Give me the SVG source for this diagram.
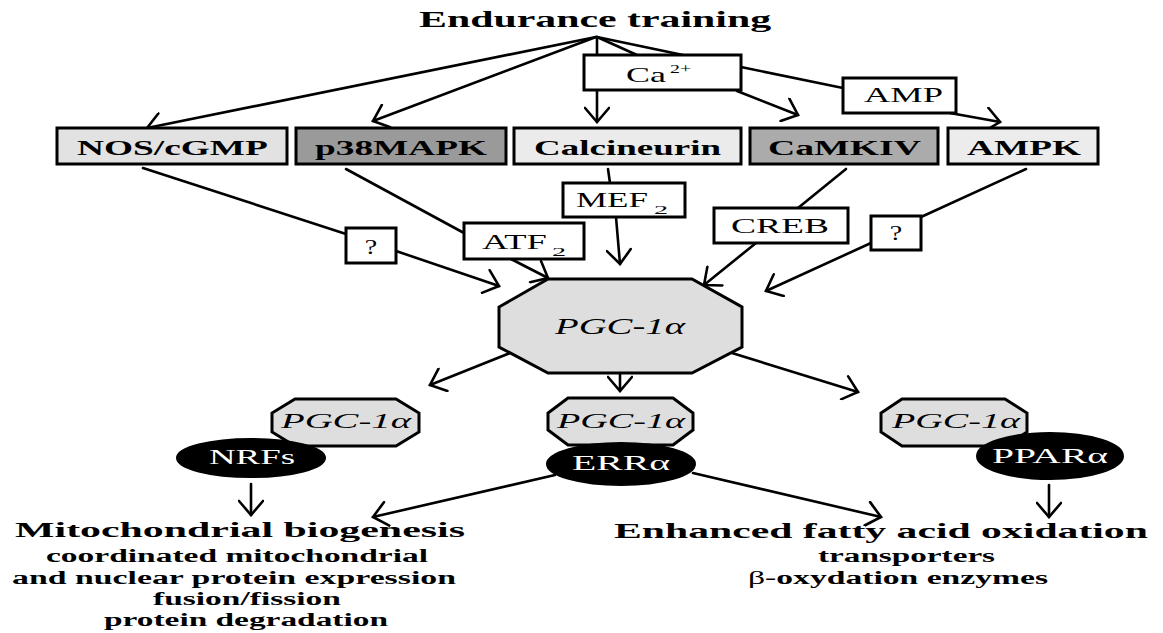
<svg xmlns="http://www.w3.org/2000/svg" width="1163" height="633" viewBox="0 0 1163 633">
<style>
text{font-family:"Liberation Serif","Times New Roman",serif;fill:#000}
.b{font-weight:bold}
.bx{stroke:#000;stroke-width:3}
.lb{fill:#fff;stroke:#000;stroke-width:3}
.c{stroke:#000;stroke-width:2.6;fill:none;stroke-linecap:round}
.a{marker-end:url(#ah)}
.oct{fill:#dedede;stroke:#000;stroke-width:3}
.ell{fill:#000;stroke:#000;stroke-width:2}
.w{fill:#fff}
.it{font-style:italic}
</style>
<defs>
<marker id="ah" viewBox="0 0 20 26" refX="18" refY="13" markerWidth="20" markerHeight="26" markerUnits="userSpaceOnUse" orient="auto">
<path d="M4,1 L18,13 L4,25" fill="none" stroke="#000" stroke-width="2.6" stroke-linecap="round" stroke-linejoin="miter"/>
</marker>
</defs>
<rect width="1163" height="633" fill="#fff"/>

<g id="connectors">
<line class="c a" x1="596" y1="37" x2="147" y2="128"/>
<line class="c a" x1="596" y1="37" x2="373" y2="121"/>
<line class="c" x1="597" y1="37" x2="597" y2="55"/>
<line class="c a" x1="597" y1="90" x2="597" y2="122"/>
<line class="c" x1="597" y1="37" x2="637" y2="55"/>
<line class="c" x1="597" y1="37" x2="683" y2="55"/>
<line class="c a" x1="737" y1="91" x2="798" y2="115"/>
<line class="c" x1="741" y1="67" x2="843" y2="88"/>
<line class="c a" x1="950" y1="113" x2="1000" y2="122"/>
<line class="c" x1="143" y1="168" x2="346" y2="234"/>
<line class="c a" x1="396" y1="251" x2="499" y2="286"/>
<line class="c" x1="346" y1="169" x2="464" y2="233"/>
<line class="c a" x1="511" y1="259" x2="548" y2="278"/>
<line class="c" x1="608" y1="169" x2="610" y2="183"/>
<line class="c a" x1="616" y1="217" x2="620" y2="264"/>
<line class="c" x1="846" y1="169" x2="798" y2="208"/>
<line class="c a" x1="756" y1="243" x2="704" y2="285"/>
<line class="c" x1="1026" y1="169" x2="921" y2="217"/>
<line class="c a" x1="871" y1="243" x2="766" y2="291"/>
<line class="c a" x1="510" y1="353" x2="430" y2="385"/>
<line class="c a" x1="620" y1="373" x2="620" y2="391"/>
<line class="c a" x1="732" y1="353" x2="858" y2="392"/>
<line class="c a" x1="251" y1="484" x2="251" y2="515"/>
<line class="c a" x1="555" y1="475" x2="373" y2="517"/>
<line class="c a" x1="693" y1="473" x2="881" y2="517"/>
<line class="c a" x1="1049" y1="485" x2="1049" y2="517"/>
</g>

<g id="title">
<text class="b" transform="translate(419,27) scale(1.85,1)" font-size="23" textLength="190.3" lengthAdjust="spacingAndGlyphs">Endurance training</text>
</g>

<g id="ca">
<rect class="lb" x="584" y="55" width="157" height="35"/>
<text transform="translate(626,82) scale(1.85,1)" font-size="21" textLength="21.6" lengthAdjust="spacingAndGlyphs">Ca</text>
<text transform="translate(670,73) scale(1.85,1)" font-size="13" textLength="11.4" lengthAdjust="spacingAndGlyphs">2+</text>
</g>
<g id="amp">
<rect class="lb" x="843" y="78" width="113" height="35"/>
<text transform="translate(864,102) scale(1.85,1)" font-size="21" textLength="42.7" lengthAdjust="spacingAndGlyphs">AMP</text>
</g>

<g id="nos">
<rect class="bx" x="57" y="128" width="230" height="36" fill="#e2e2e2"/>
<text class="b" transform="translate(77,155) scale(1.85,1)" font-size="22" textLength="103.2" lengthAdjust="spacingAndGlyphs">NOS/cGMP</text>
</g>
<g id="p38">
<rect class="bx" x="296" y="128" width="210" height="36" fill="#9a9a9a"/>
<text class="b" transform="translate(315,155) scale(1.85,1)" font-size="22" textLength="93" lengthAdjust="spacingAndGlyphs">p38MAPK</text>
</g>
<g id="calcineurin">
<rect class="bx" x="514" y="128" width="227" height="36" fill="#ebebeb"/>
<text class="b" transform="translate(534,155) scale(1.85,1)" font-size="22" textLength="101.1" lengthAdjust="spacingAndGlyphs">Calcineurin</text>
</g>
<g id="camkiv">
<rect class="bx" x="750" y="128" width="188" height="36" fill="#ababab"/>
<text class="b" transform="translate(768,155) scale(1.85,1)" font-size="22" textLength="82.7" lengthAdjust="spacingAndGlyphs">CaMKIV</text>
</g>
<g id="ampk">
<rect class="bx" x="948" y="128" width="150" height="36" fill="#ececec"/>
<text class="b" transform="translate(967,155) scale(1.85,1)" font-size="22" textLength="61.6" lengthAdjust="spacingAndGlyphs">AMPK</text>
</g>

<g id="q1">
<rect class="lb" x="346" y="228" width="50" height="35"/>
<text transform="translate(371,254) scale(1.4,1)" font-size="20" text-anchor="middle">?</text>
</g>
<g id="atf2">
<rect class="lb" x="464" y="223" width="120" height="36"/>
<text transform="translate(482,249) scale(1.85,1)" font-size="21" textLength="35.1" lengthAdjust="spacingAndGlyphs">ATF</text>
<text transform="translate(552,256) scale(1.85,1)" font-size="13" textLength="7.6" lengthAdjust="spacingAndGlyphs">2</text>
</g>
<g id="mef2">
<rect class="lb" x="563" y="183" width="122" height="34"/>
<text transform="translate(576,207) scale(1.85,1)" font-size="21" textLength="38.9" lengthAdjust="spacingAndGlyphs">MEF</text>
<text transform="translate(654,214) scale(1.85,1)" font-size="13" textLength="7.6" lengthAdjust="spacingAndGlyphs">2</text>
</g>
<g id="creb">
<rect class="lb" x="714" y="208" width="134" height="35"/>
<text transform="translate(731,233) scale(1.85,1)" font-size="21" textLength="53" lengthAdjust="spacingAndGlyphs">CREB</text>
</g>
<g id="q2">
<rect class="lb" x="871" y="216" width="50" height="34"/>
<text transform="translate(896,240) scale(1.4,1)" font-size="20" text-anchor="middle">?</text>
</g>

<g id="pgc1a">
<polygon class="oct" points="548,279 692,279 742,307 742,347 692,373 548,373 499,347 499,307"/>
<text class="it" transform="translate(555,334) scale(1.85,1)" font-size="24" textLength="70.3" lengthAdjust="spacingAndGlyphs">PGC-1α</text>
</g>

<g id="pgc-nrf">
<polygon class="oct" points="295,399 396,399 419,413 419,432 396,446 295,446 272,432 272,413"/>
<text class="it" transform="translate(281,428) scale(1.85,1)" font-size="21" textLength="70.3" lengthAdjust="spacingAndGlyphs">PGC-1α</text>
<ellipse class="ell" cx="251" cy="458" rx="74" ry="19"/>
<text class="w" transform="translate(209,464) scale(1.85,1)" font-size="21" textLength="46.5" lengthAdjust="spacingAndGlyphs">NRFs</text>
</g>

<g id="pgc-err">
<polygon class="oct" points="568,398 673,398 693,413 693,430 673,445 568,445 548,430 548,413"/>
<text class="it" transform="translate(557,428) scale(1.85,1)" font-size="21" textLength="69.2" lengthAdjust="spacingAndGlyphs">PGC-1α</text>
<ellipse class="ell" cx="621" cy="464" rx="74" ry="21"/>
<text class="w" transform="translate(572,470) scale(1.85,1)" font-size="21" textLength="53" lengthAdjust="spacingAndGlyphs">ERRα</text>
</g>

<g id="pgc-ppar">
<polygon class="oct" points="902,399 1005,399 1027,413 1027,432 1005,446 902,446 881,432 881,413"/>
<text class="it" transform="translate(892,428) scale(1.85,1)" font-size="21" textLength="69.2" lengthAdjust="spacingAndGlyphs">PGC-1α</text>
<ellipse class="ell" cx="1050" cy="456" rx="73" ry="23"/>
<text class="w" transform="translate(992,463) scale(1.85,1)" font-size="21" textLength="62.7" lengthAdjust="spacingAndGlyphs">PPARα</text>
</g>

<g id="mito">
<text class="b" transform="translate(15,537) scale(1.85,1)" font-size="22" textLength="243.2" lengthAdjust="spacingAndGlyphs">Mitochondrial biogenesis</text>
<text class="b" transform="translate(46,562) scale(1.85,1)" font-size="18" textLength="206.5" lengthAdjust="spacingAndGlyphs">coordinated mitochondrial</text>
<text class="b" transform="translate(12,584) scale(1.85,1)" font-size="18" textLength="240" lengthAdjust="spacingAndGlyphs">and nuclear protein expression</text>
<text class="b" transform="translate(153,605) scale(1.85,1)" font-size="18" textLength="101.6" lengthAdjust="spacingAndGlyphs">fusion/fission</text>
<text class="b" transform="translate(104,626) scale(1.85,1)" font-size="18" textLength="153.5" lengthAdjust="spacingAndGlyphs">protein degradation</text>
</g>

<g id="fao">
<text class="b" transform="translate(614,538) scale(1.85,1)" font-size="22" textLength="288.6" lengthAdjust="spacingAndGlyphs">Enhanced fatty acid oxidation</text>
<text class="b" transform="translate(818,562) scale(1.85,1)" font-size="18" textLength="95.7" lengthAdjust="spacingAndGlyphs">transporters</text>
<text class="b" transform="translate(748,584) scale(1.85,1)" font-size="18" textLength="162.2" lengthAdjust="spacingAndGlyphs"><tspan font-weight="normal">β</tspan>-oxydation enzymes</text>
</g>
</svg>
